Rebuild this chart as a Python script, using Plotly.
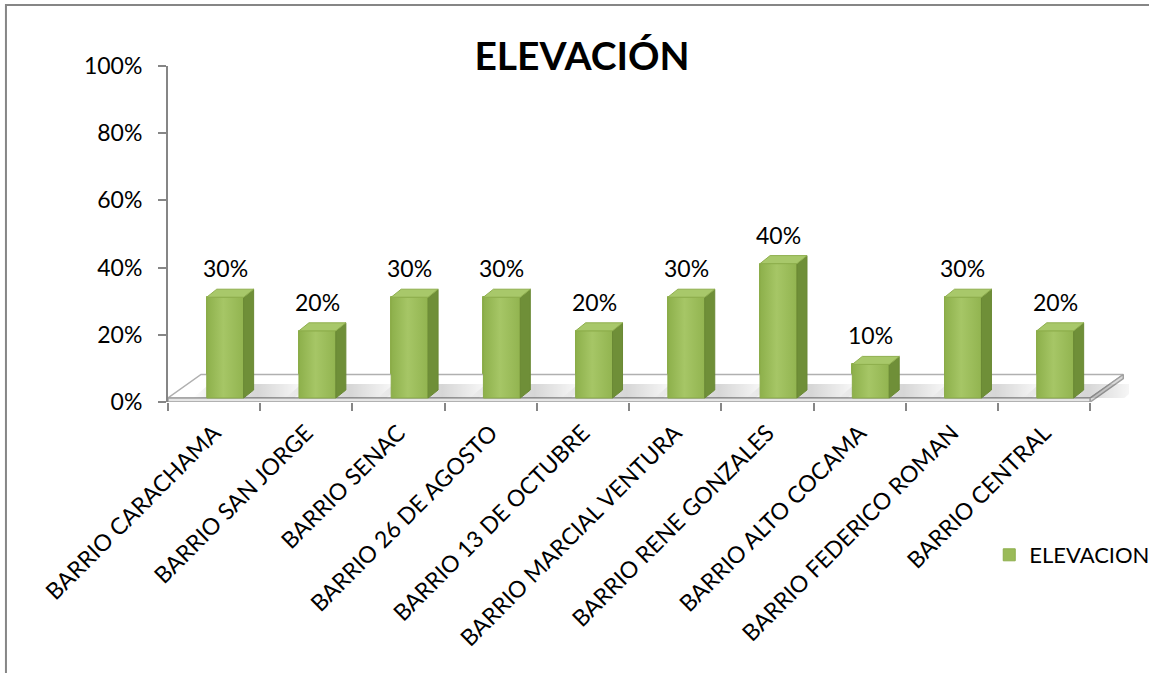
import plotly.graph_objects as go

# ---------------- data ----------------
categories = [
    "BARRIO CARACHAMA", "BARRIO SAN JORGE", "BARRIO SENAC", "BARRIO 26 DE AGOSTO",
    "BARRIO 13 DE OCTUBRE", "BARRIO MARCIAL VENTURA", "BARRIO RENE GONZALES",
    "BARRIO ALTO COCAMA", "BARRIO FEDERICO ROMAN", "BARRIO CENTRAL",
]
values = [0.30, 0.20, 0.30, 0.30, 0.20, 0.30, 0.40, 0.10, 0.30, 0.20]
series_name = "ELEVACION"
title_text = "ELEVACIÓN"
y_tick_values = [0, 0.2, 0.4, 0.6, 0.8, 1.0]
y_tick_labels = ["0%", "20%", "40%", "60%", "80%", "100%"]

# ---------------- layout geometry ----------------
W, H = 1149, 673
L, T = 168, 66
PH = 336
n = len(categories)
cat_px = 92.2
x_extra = 0.42
xmax = n + x_extra
plot_w = cat_px * xmax
R = W - L - plot_w
B = H - T - PH

FONT = "Lato"
GRAY = "#868686"

floor_t = 4 / PH
ddx, ddy = 33 / cat_px, 23.5 / PH
bar_left, bar_w = 0.42, 0.40
sdx, sdy = 10 / cat_px, 8 / PH

fig = go.Figure()


def poly(xs, ys, fill, line_color=None, lw=0, grad=None):
    kw = dict(x=xs + [xs[0]], y=ys + [ys[0]], mode="lines", fill="toself",
              fillcolor=fill, showlegend=False, hoverinfo="skip",
              line=dict(color=line_color or "rgba(0,0,0,0)", width=lw))
    if grad is not None:
        kw["fillgradient"] = grad
    fig.add_trace(go.Scatter(**kw))


# floor top surface
poly([0, n, n + ddx, ddx], [floor_t, floor_t, floor_t + ddy, floor_t + ddy],
     "#FFFFFF", "#B0B0B0", 1.5)
# floor front face
poly([0, n, n, 0], [0, 0, floor_t, floor_t], "#E6E6E6", "#A0A0A0", 1.5)
# floor right side
poly([n, n + ddx, n + ddx, n], [0, ddy, floor_t + ddy, floor_t], "#DADADA", "#A0A0A0", 1.5)

# shadows on the floor
for i, v in enumerate(values):
    x0 = i + bar_left
    x1 = x0 + bar_w
    poly([x0 - 0.15, x1 + 0.55, x1 + 0.55 + ddx * 0.5, x0 - 0.15 + ddx * 0.5],
         [floor_t, floor_t, floor_t + ddy * 0.6, floor_t + ddy * 0.6],
         "rgba(0,0,0,0.08)",
         grad=dict(type="horizontal",
                   colorscale=[[0, "rgba(0,0,0,0)"], [0.2, "rgba(0,0,0,0.10)"],
                               [0.55, "rgba(0,0,0,0.16)"], [1, "rgba(0,0,0,0)"]]))

# front faces (bars)
fig.add_trace(go.Bar(
    x=[i + bar_left + bar_w / 2 for i in range(n)],
    y=values,
    base=floor_t,
    width=bar_w,
    name=series_name,
    marker=dict(color="#9BBB59", line=dict(color="#8DAE4C", width=1)),
    showlegend=True,
    hoverinfo="skip",
))

for i, v in enumerate(values):
    x0 = i + bar_left
    x1 = x0 + bar_w
    y0 = floor_t
    y1 = v + floor_t
    # front face gradient overlay
    poly([x0, x1, x1, x0], [y0, y0, y1, y1], "#9BBB59", "#8AAB48", 1,
         grad=dict(type="horizontal",
                   colorscale=[[0, "#8DB04B"], [0.45, "#A6C666"], [1, "#92B450"]]))
    # side face
    poly([x1, x1 + sdx, x1 + sdx, x1], [y0, y0 + sdy, y1 + sdy, y1], "#6F8F38", "#6A8934", 1)
    # top face
    poly([x0, x1, x1 + sdx, x0 + sdx], [y1, y1, y1 + sdy, y1 + sdy], "#A8C86A", "#8FAF4E", 1)

# data labels
for i, v in enumerate(values):
    fig.add_annotation(x=i + bar_left + bar_w / 2, y=v + floor_t, yshift=29,
                       text=f"{round(v * 100)}%", showarrow=False,
                       xanchor="center", yanchor="middle",
                       font=dict(family=FONT, size=23, color="#000000"))

# chart border
fig.add_shape(type="rect", xref="paper", yref="paper",
              x0=(6 - L) / plot_w, x1=(W + 20 - L) / plot_w,
              y0=(T + PH - (H + 20)) / PH, y1=(T + PH - 5) / PH,
              line=dict(color=GRAY, width=2), fillcolor="rgba(0,0,0,0)", layer="below")

fig.update_layout(
    width=W, height=H,
    margin=dict(l=L, r=R, t=T, b=B, pad=0, autoexpand=False),
    paper_bgcolor="#FFFFFF", plot_bgcolor="rgba(0,0,0,0)",
    title=dict(text=f"<b>{title_text}</b>", xref="container", yref="container",
               x=582 / W, y=1 - 56 / H, xanchor="center", yanchor="middle",
               font=dict(family=FONT, size=39, color="#000000")),
    showlegend=True,
    legend=dict(x=(989 - L) / plot_w, y=(T + PH - 555) / PH, xanchor="left", yanchor="middle",
                font=dict(family=FONT, size=22, color="#000000"),
                bgcolor="rgba(0,0,0,0)", borderwidth=0),
    bargap=0,
    xaxis=dict(range=[0, xmax], showgrid=False, zeroline=False, showline=False,
               tickmode="array", tickvals=[i + 0.5 for i in range(n)], ticktext=categories,
               tickangle=-45, ticks="", ticklabelstandoff=12,
               tickfont=dict(family=FONT, size=23, color="#000000"),
               minor=dict(tickmode="array", tickvals=list(range(n + 1)), ticks="outside",
                          ticklen=8, tickwidth=2, tickcolor=GRAY),
               fixedrange=True),
    yaxis=dict(range=[0, 1], showgrid=False, zeroline=False, showline=True,
               linecolor=GRAY, linewidth=2, tickmode="array",
               tickvals=y_tick_values, ticktext=y_tick_labels,
               ticks="outside", ticklen=8, tickwidth=2, tickcolor=GRAY,
               ticklabelstandoff=11,
               tickfont=dict(family=FONT, size=23, color="#000000"),
               fixedrange=True),
)

fig.write_html("out.html", config={"displayModeBar": False},
               post_script="document.body.style.margin='0';")
